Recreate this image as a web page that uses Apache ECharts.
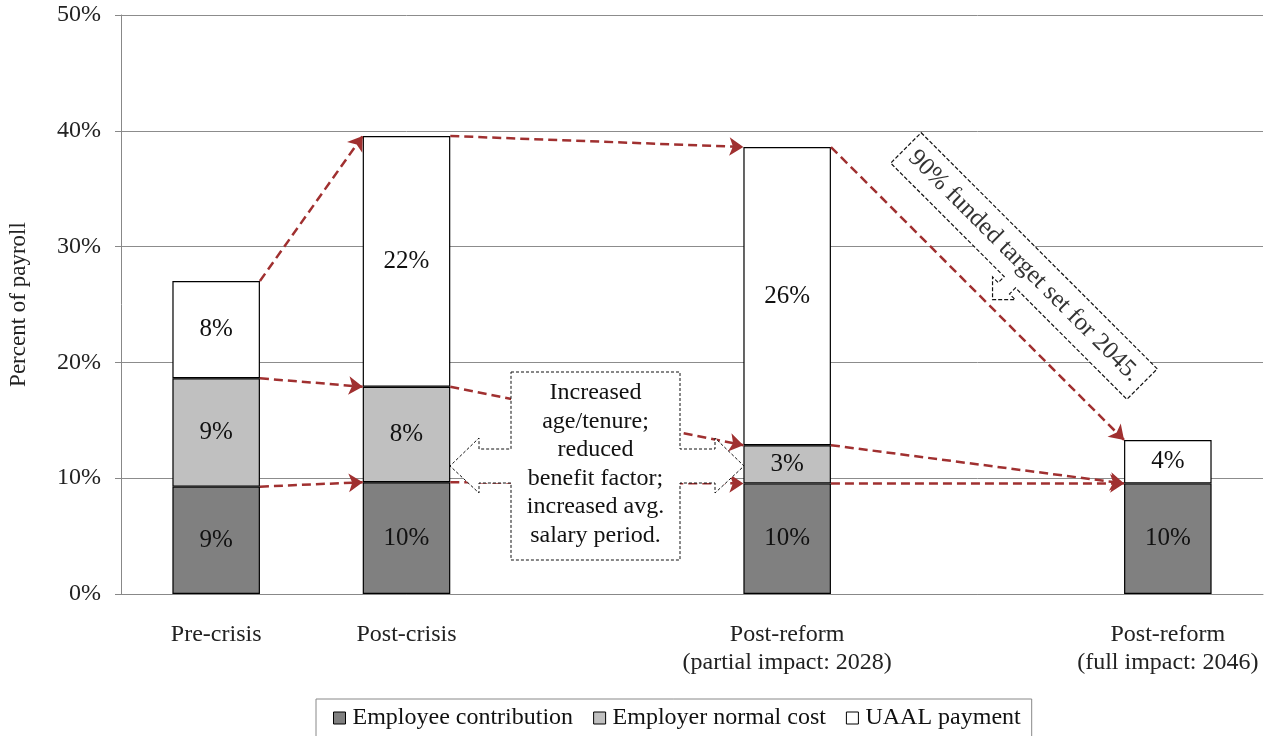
<!DOCTYPE html>
<html>
<head>
<meta charset="utf-8">
<script src="https://cdn.jsdelivr.net/npm/echarts@6/dist/echarts.min.js"></script>
<style>
html,body{margin:0;padding:0;background:#fff;}
#c{width:1265px;height:736px;}
</style>
</head>
<body>
<div id="c"></div>
<script>
// ---- data ----
const categories = ['Pre-crisis', 'Post-crisis', '', 'Post-reform\n(partial impact: 2028)', '', 'Post-reform\n(full impact: 2046)'];
const employeeContribution = [9.27, 9.65, null, 9.55, null, 9.55];
const employerNormalCost   = [9.36, 8.25, null, 3.3, null, null];
const uaalPayment          = [8.4, 21.65, null, 25.75, null, 3.75];
const seriesNames = ['Employee contribution', 'Employer normal cost', 'UAAL payment'];
const yTicks = { min: 0, max: 50, interval: 10 };
// arrows: [from category, to category] for each stack level
const arrowPairs = [[0, 1], [1, 3], [3, 5]];
const calloutText = 'Increased\nage/tenure;\nreduced\nbenefit factor;\nincreased avg.\nsalary period.';
const targetText = '90% funded target set for 2045.';

// ---- chart ----
const FONT = "'Liberation Serif', 'Times New Roman', serif";
const BAR_FRAC = 0.46;
const HALF = BAR_FRAC / 2;
const stacks = [employeeContribution, employerNormalCost, uaalPayment];
function topAt(i, level) {
  let s = 0;
  for (let k = 0; k <= level; k++) s += (stacks[k][i] || 0);
  return s;
}
const arrowData = [];
for (let level = 2; level >= 0; level--) {
  arrowPairs.forEach(([a, b]) => {
    arrowData.push({ coords: [[a + HALF, topAt(a, level)], [b - HALF, topAt(b, level)]] });
  });
}

const chart = echarts.init(document.getElementById('c'), null, { renderer: 'canvas' });
const labelCfg = {
  show: true, position: 'inside', color: '#111', fontFamily: FONT, fontSize: 25,
  formatter: p => (p.value ? Math.round(p.value) + '%' : '')
};
const colors = ['#808080', '#c0c0c0', '#ffffff'];
const barSeries = stacks.map((arr, k) => ({
  name: seriesNames[k], type: 'bar', stack: 'total', data: arr,
  barWidth: (BAR_FRAC * 100) + '%',
  itemStyle: { color: colors[k], borderColor: '#000', borderWidth: 1.2 },
  label: labelCfg, emphasis: { disabled: true }
}));

const L = 167, W = 21.5;
const targetShape = [
  [-L, -W], [L, -W], [L, W], [9.5, W], [9.5, 30], [17.5, 30], [1.5, 46], [-14.5, 30], [-6.5, 30], [-6.5, W], [-L, W]
];

chart.setOption({
  animation: false,
  backgroundColor: '#fff',
  grid: { left: 121, right: 2, top: 15, bottom: 142, containLabel: false, outerBoundsMode: 'none' },
  legend: {
    data: seriesNames, left: 316, top: 699, selectedMode: false,
    borderColor: '#888', borderWidth: 1, padding: [7, 11, 30, 17],
    itemWidth: 12, itemHeight: 12, itemGap: 20,
    icon: 'rect',
    itemStyle: { borderColor: '#000', borderWidth: 1 },
    textStyle: { fontFamily: FONT, fontSize: 24, color: '#111', padding: [0, 0, 0, 2] }
  },
  xAxis: [
    {
      type: 'category', data: categories,
      axisLine: { show: true, lineStyle: { color: '#888' } },
      axisTick: { show: false },
      axisLabel: { interval: 0, margin: 27, color: '#222', fontFamily: FONT, fontSize: 24, lineHeight: 28 }
    },
    { type: 'value', min: -0.5, max: 5.5, show: false }
  ],
  yAxis: {
    type: 'value', min: yTicks.min, max: yTicks.max, interval: yTicks.interval,
    name: 'Percent of payroll', nameLocation: 'middle', nameRotate: 90, nameGap: 91,
    nameTextStyle: { fontFamily: FONT, fontSize: 23, color: '#222' },
    axisLine: { show: true, onZero: false, lineStyle: { color: '#888' } },
    axisTick: { show: true, length: 6, lineStyle: { color: '#888' } },
    axisLabel: { formatter: '{value}%', margin: 20, color: '#222', fontFamily: FONT, fontSize: 24 },
    splitLine: { lineStyle: { color: '#8c8c8c', width: 1 } }
  },
  series: barSeries.concat([{
    type: 'lines', coordinateSystem: 'cartesian2d', xAxisIndex: 1, yAxisIndex: 0,
    data: arrowData, symbol: ['none', 'arrow'], symbolSize: [11, 14],
    lineStyle: { color: '#a03030', width: 2.5, type: [9, 5], opacity: 1 },
    z: 5, silent: true
  }]),
  graphic: [
    {
      type: 'polygon', z: 100, silent: true,
      shape: { points: [[511,372],[680,372],[680,449],[715,449],[715,438],[744,466],[715,493],[715,483],[680,483],[680,560],[511,560],[511,483],[479,483],[479,493],[450,466],[479,438],[479,449],[511,449]] },
      style: { fill: '#fff', stroke: '#111', lineWidth: 1, lineDash: [3, 2] }
    },
    {
      type: 'text', z: 101, silent: true, x: 595.5, y: 464,
      style: { text: calloutText, fontFamily: FONT, fontSize: 24, lineHeight: 28.5, fill: '#111', align: 'center', verticalAlign: 'middle' }
    },
    {
      type: 'group', x: 1024, y: 266, rotation: -Math.PI / 4, z: 100, silent: true,
      children: [
        { type: 'polygon', z: 100, shape: { points: targetShape }, style: { fill: '#fff', stroke: '#111', lineWidth: 1.2, lineDash: [4, 2] } },
        { type: 'text', z: 101, x: 0, y: 0, style: { text: targetText, fontFamily: FONT, fontSize: 25, fill: '#333', align: 'center', verticalAlign: 'middle' } }
      ]
    }
  ]
});
</script>
</body>
</html>
